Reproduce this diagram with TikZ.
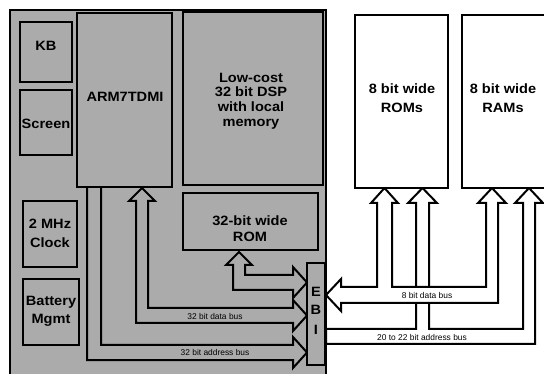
\documentclass[tikz,border=0pt]{standalone}
\usepackage{fontspec}
\newfontfamily\lblfam[FakeStretch=1.08]{Liberation Sans}
\newfontfamily\smlfam{Liberation Sans}
\definecolor{halftone}{HTML}{ABABAB}
\begin{document}
\begin{tikzpicture}[x=1pt,y=-1pt,
  box/.style={draw=black,line width=1.9pt,fill=halftone,inner sep=0pt},
  wbox/.style={draw=black,line width=1.9pt,fill=white,inner sep=0pt},
  lbl/.style={font=\fontsize{13.5}{16}\lblfam\bfseries,align=center,inner sep=0pt},
  tinylbl/.style={font=\fontsize{8.4}{9}\smlfam,inner sep=0pt},
  gbus/.style={draw=black,line width=2pt,fill=halftone,line join=miter},
  wbus/.style={draw=black,line width=2pt,fill=white,line join=miter}]
\useasboundingbox (0,0) rectangle (544,374);
\clip (0,0) rectangle (544,374);
\fill[white] (0,0) rectangle (544,374);

% grey board
\node[box,minimum width=316pt,minimum height=370pt] (panel) at (168,195) {};

% left buses (grey inside)
\draw[gbus] (87,187) -- (101,187) -- (101,345) -- (293,345) -- (293,337) -- (307,352.5)
  -- (293,368) -- (293,360) -- (87,360) -- cycle;
\draw[gbus] (142,188) -- (155,201) -- (148,201) -- (148,308) -- (293,308) -- (293,300)
  -- (307,315.5) -- (293,331) -- (293,323) -- (136,323) -- (136,201) -- (129,201) -- cycle;
\draw[gbus] (239,252) -- (252,265) -- (245,265) -- (245,275) -- (293,275) -- (293,267)
  -- (307,282.5) -- (293,298) -- (293,290) -- (233,290) -- (233,265) -- (226,265) -- cycle;

% right buses (white inside)
\draw[wbus] (326,329) -- (416,329) -- (416,203) -- (408,203) -- (422.5,188) -- (437,203)
  -- (429,203) -- (429,329) -- (523,329) -- (523,203) -- (515,203) -- (529,188)
  -- (543,203) -- (535,203) -- (535,344) -- (326,344) -- cycle;
\draw[wbus] (326,295) -- (341,279) -- (341,287) -- (377,287) -- (377,203) -- (371,203)
  -- (384.5,188) -- (398,203) -- (392,203) -- (392,287) -- (486,287) -- (486,203)
  -- (478,203) -- (492,188) -- (506,203) -- (498,203) -- (498,303) -- (341,303)
  -- (341,311) -- cycle;

% boxes
\node[box,minimum width=52pt,minimum height=60pt] (kb) at (46,52) {};
\node[box,minimum width=52pt,minimum height=65pt] (scr) at (46,122.5) {};
\node[box,minimum width=95pt,minimum height=174pt] (arm) at (124.5,100) {};
\node[box,minimum width=140pt,minimum height=173pt] (dsp) at (253,98.5) {};
\node[box,minimum width=135pt,minimum height=57pt] (rom32) at (250.5,221.5) {};
\node[box,minimum width=54pt,minimum height=66pt] (clk) at (50,234) {};
\node[box,minimum width=56pt,minimum height=66pt] (bat) at (51,312) {};
\node[box,minimum width=18pt,minimum height=102pt] (ebi) at (316,314) {};
\node[wbox,minimum width=93pt,minimum height=173pt] (roms) at (401.5,101.5) {};
\node[wbox,minimum width=98pt,minimum height=173pt] (rams) at (511,101.5) {};

% labels
\node[lbl] (kb-t) at (46,46) {KB};
\node[lbl] (scr-t) at (46,124) {Screen};
\node[lbl] (arm-t) at (125,97) {ARM7TDMI};
\node[lbl,font=\fontsize{13.5}{14.7}\lblfam\bfseries] (dsp-t) at (251,101) {Low-cost\\32 bit DSP\\with local\\memory};
\node[lbl] (rom32-t) at (250,229) {32-bit wide\\ROM};
\node[lbl,font=\fontsize{13.5}{19}\lblfam\bfseries] (clk-t) at (50,233) {2 MHz\\Clock};
\node[lbl,font=\fontsize{13.5}{18}\lblfam\bfseries] (bat-t) at (51,311) {Battery\\Mgmt};
\node[lbl] (e-t) at (316,292) {E};
\node[lbl] (b-t) at (316,310) {B};
\node[lbl] (i-t) at (316,330) {I};
\node[lbl,font=\fontsize{13.5}{19}\lblfam\bfseries] (roms-t) at (402,98) {8 bit wide\\ROMs};
\node[lbl,font=\fontsize{13.5}{19}\lblfam\bfseries] (rams-t) at (503,98) {8 bit wide\\RAMs};

\node[tinylbl] (db32) at (215,316) {32 bit data bus};
\node[tinylbl] (ab32) at (215,352.5) {32 bit address bus};
\node[tinylbl] (db8) at (427,295.5) {8 bit data bus};
\node[tinylbl] (ab20) at (422,337) {20 to 22 bit address bus};
\end{tikzpicture}
\end{document}
